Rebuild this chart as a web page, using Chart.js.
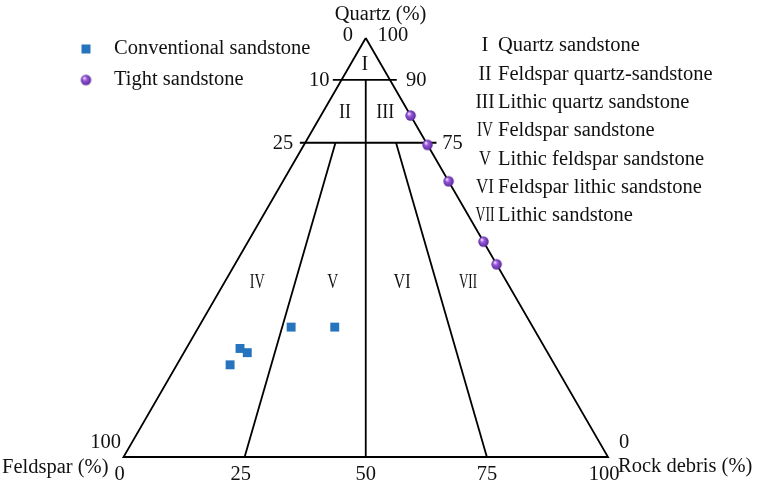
<!DOCTYPE html>
<html>
<head>
<meta charset="utf-8">
<script src="https://cdn.jsdelivr.net/npm/chart.js@4.4.1/dist/chart.umd.min.js"></script>
<style>
  html, body { margin: 0; padding: 0; background: #ffffff; overflow: hidden; }
  #wrap { width: 763px; height: 487px; position: relative; }
</style>
</head>
<body>
<div id="wrap"><canvas id="c" width="763" height="487"></canvas></div>
<script>
// Sample compositions, in percent of quartz / feldspar / rock debris
const seriesNames = ['Conventional sandstone', 'Tight sandstone'];
const conventionalQuartz   = [31.0, 31.0, 25.9, 24.9, 22.0];
const conventionalFeldspar = [49.9, 40.9, 63.0, 62.0, 67.0];
const conventionalRock     = [19.1, 28.1, 11.1, 13.1, 11.0];
const tightQuartz   = [81.5, 74.5, 65.8, 51.4, 46.0];
const tightFeldspar = [0, 0, 0, 0, 0];
const tightRock     = [18.5, 25.5, 34.2, 48.6, 54.0];

// Classification boundaries
const quartzBoundaries = [90, 75];                 // quartz %
const quartzLeftLabels = ['10', '25'];
const quartzRightLabels = ['90', '75'];
const rockShareBoundaries = [25, 50, 75];          // rock debris share of (F + R), %
const baseTicks = [0, 25, 50, 75, 100];
const baseTickLabels = ['0', '25', '50', '75', '100'];
const classNumerals = ['I', 'II', 'III', 'IV', 'V', 'VI', 'VII'];
const classNames = ['Quartz sandstone', 'Feldspar quartz-sandstone', 'Lithic quartz sandstone',
  'Feldspar sandstone', 'Lithic feldspar sandstone', 'Feldspar lithic sandstone', 'Lithic sandstone'];

// Ternary (Q, F, R) -> plot coordinates: x along the F-R base, y = quartz height
function tern(q, f, r) {
  const s = q + f + r;
  const qq = q / s * 100, rr = r / s * 100;
  return { x: rr + qq / 2, y: qq };
}
function toPoints(qs, fs, rs) {
  return qs.map((q, i) => tern(q, fs[i], rs[i]));
}

const FONT = '"Liberation Serif", "Times New Roman", serif';
const SQUARE_COLOR = '#2574bd';

function makeSphere(r) {
  const size = Math.ceil(r * 2 + 2);
  const c = document.createElement('canvas');
  c.width = size; c.height = size;
  const g = c.getContext('2d');
  const cx = size / 2;
  const grad = g.createRadialGradient(cx - r * 0.35, cx - r * 0.4, r * 0.08, cx, cx, r);
  grad.addColorStop(0, '#f3e6ff');
  grad.addColorStop(0.35, '#9a5be0');
  grad.addColorStop(1, '#5a2898');
  g.fillStyle = grad;
  g.beginPath();
  g.arc(cx, cx, r, 0, Math.PI * 2);
  g.fill();
  return c;
}
const sphere = makeSphere(5.2);

const lineStyle = {
  type: 'line', showLine: true, pointRadius: 0, borderColor: '#000000',
  borderWidth: 1.8, fill: false, tension: 0, clip: false, order: 5
};

// Frame and boundary lines
const lineSets = [];
lineSets.push(Object.assign({ data: [tern(100, 0, 0), tern(0, 100, 0), tern(0, 0, 100), tern(100, 0, 0)] }, lineStyle));
const tickExt = [[1.8, 1.4], [1.1, 2.1]];
quartzBoundaries.forEach((q, i) => {
  lineSets.push(Object.assign({ data: [
    { x: q / 2 - tickExt[i][0], y: q },
    { x: 100 - q / 2 + tickExt[i][1], y: q }
  ] }, lineStyle));
});
rockShareBoundaries.forEach(p => {
  const qTop = p === 50 ? quartzBoundaries[0] : quartzBoundaries[1];
  const rest = 100 - qTop;
  lineSets.push(Object.assign({ data: [
    tern(qTop, rest * (100 - p) / 100, rest * p / 100),
    tern(0, 100 - p, p)
  ] }, lineStyle));
});

// Region numerals placed inside the diagram (plot coordinates)
const regionLabelPos = [
  { x: 49.8, y: 93.6 }, { x: 45.7, y: 82.1 }, { x: 54.0, y: 82.1 },
  { x: 27.6, y: 41.5 }, { x: 43.2, y: 41.5 }, { x: 57.5, y: 41.5 }, { x: 71.1, y: 41.5 }
];
const numeralWidths = [6, 12, 18, 15, 11, 17, 18];

const annotations = {
  id: 'ternaryText',
  afterDraw(chart) {
    const ctx = chart.ctx;
    const xs = chart.scales.x, ys = chart.scales.y;
    const px = v => xs.getPixelForValue(v);
    const py = v => ys.getPixelForValue(v);
    const apexX = px(50), apexY = py(100);
    const blX = px(0), brX = px(100), baseY = py(0);
    ctx.save();
    ctx.fillStyle = '#111111';
    ctx.textBaseline = 'middle';
    ctx.font = '20.5px ' + FONT;

    const txt = (s, x, y, align, maxW) => {
      ctx.textAlign = align || 'center';
      if (maxW) ctx.fillText(s, x, y, maxW); else ctx.fillText(s, x, y);
    };

    // Apex
    txt('Quartz (%)', apexX - 31, apexY - 23, 'left');
    txt('0', apexX - 18, apexY - 2);
    txt('100', apexX + 27, apexY - 2);

    // Quartz boundary labels
    quartzBoundaries.forEach((q, i) => {
      txt(quartzLeftLabels[i], px(q / 2) - 12, py(q) + 1, 'right');
      txt(quartzRightLabels[i], px(100 - q / 2) + 16, py(q) + 1, 'left');
    });

    // Corners and base axis
    txt('100', blX - 18, baseY - 14);
    txt('0', brX + 16, baseY - 14);
    txt('Feldspar (%)', blX - 15, baseY + 11, 'right');
    txt('Rock debris (%)', brX + 10, baseY + 10, 'left');
    baseTicks.forEach((v, i) => {
      const off = (v === 50 || v === 75) ? 0 : -4;
      txt(baseTickLabels[i], px(v) + off, baseY + 18);
    });

    // Region numerals
    ctx.font = '20px ' + FONT;
    regionLabelPos.forEach((p, i) => {
      if (i === 0) return;
      txt(classNumerals[i], px(p.x), py(p.y), 'center', numeralWidths[i]);
    });
    txt(classNumerals[0], px(regionLabelPos[0].x), py(regionLabelPos[0].y), 'center');

    // Class key (right)
    ctx.font = '20.5px ' + FONT;
    classNames.forEach((name, i) => {
      const y = 46 + i * 28.3;
      txt(classNumerals[i], 485, y, 'center', i === 0 ? undefined : numeralWidths[i] + 1);
      txt(name, 498, y, 'left');
    });

    // Series key (left)
    ctx.fillStyle = SQUARE_COLOR;
    ctx.fillRect(86 - 4.5, 49 - 4.5, 9, 9);
    ctx.drawImage(sphere, 86 - sphere.width / 2, 80 - sphere.height / 2);
    ctx.fillStyle = '#111111';
    txt(seriesNames[0], 114, 49, 'left');
    txt(seriesNames[1], 114, 80, 'left');
    ctx.restore();
  }
};

new Chart(document.getElementById('c'), {
  type: 'scatter',
  data: {
    datasets: [
      {
        label: seriesNames[0],
        data: toPoints(conventionalQuartz, conventionalFeldspar, conventionalRock),
        pointStyle: 'rect', pointRadius: 6.3, pointHoverRadius: 6.3,
        backgroundColor: SQUARE_COLOR, borderWidth: 0, clip: false, order: 0
      },
      {
        label: seriesNames[1],
        data: toPoints(tightQuartz, tightFeldspar, tightRock),
        pointStyle: sphere, pointRadius: 5.2, pointHoverRadius: 5.2,
        borderWidth: 0, clip: false, order: 0
      },
      ...lineSets
    ]
  },
  options: {
    responsive: false,
    devicePixelRatio: 1,
    animation: false,
    events: [],
    layout: { padding: { left: 123.5, right: 155, top: 38, bottom: 30 } },
    scales: {
      x: { type: 'linear', min: 0, max: 100, display: false },
      y: { type: 'linear', min: 0, max: 100, display: false }
    },
    plugins: { legend: { display: false }, tooltip: { enabled: false } }
  },
  plugins: [annotations]
});
</script>
</body>
</html>
